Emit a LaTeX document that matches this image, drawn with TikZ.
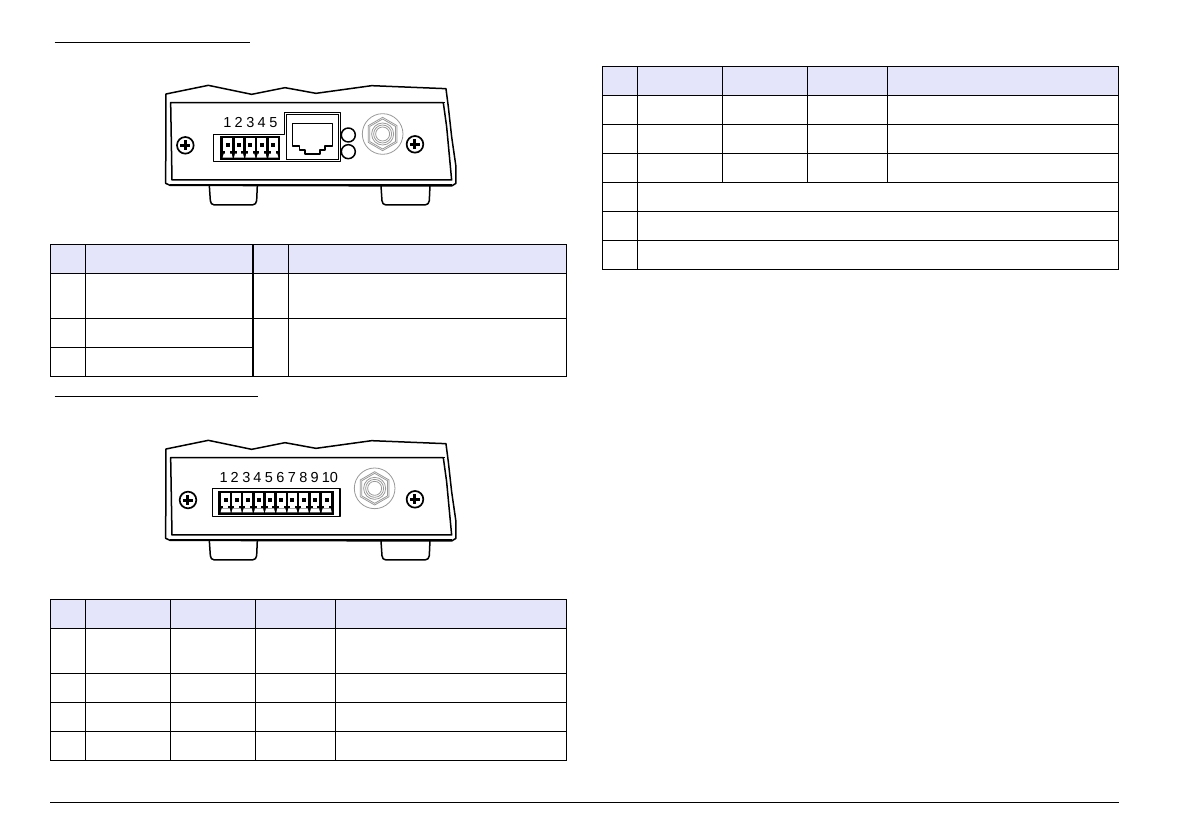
\documentclass[tikz,border=0pt]{standalone}
\usepackage{fontspec}
\setmainfont{Liberation Sans}
\usepackage{xcolor}
\definecolor{headfill}{HTML}{E4E4FA}
\colorlet{jackcol}{black!40}
\tikzstyle{rule}=[line width=1pt,black]
\tikzstyle{grid}=[line width=1pt,black]
\tikzstyle{head}=[fill=headfill,draw=none]
\tikzstyle{case}=[line width=1.5pt,black,line join=round]
\tikzstyle{jack}=[line width=0.8pt,jackcol]
\tikzstyle{pinno}=[font=\fontsize{14.5}{14.5}\selectfont,inner sep=0pt]
% device housing, seen from the front (zoomed units)
\def\housing{
  \draw[case] (48,72) -- (175,46) -- (305,73) -- (405,53) -- (498,70) -- (665,47) -- (888,56)
    -- (895,110) -- (905,200) -- (918,290) -- (918,340) -- (905,348) -- (60,346) -- (47,340) -- cycle;
  \draw[case] (62,98) -- (880,98) -- (890,170) -- (905,330) -- (66,330) -- cycle;
  \draw[case] (880,98) -- (886,98);
  \draw[line width=2pt] (60,345) -- (905,345);
  \foreach \xa/\xb in {178/322,693/840}
    \draw[case] (\xa,347) -- (\xa+3,392) to[out=-90,in=180] (\xa+15,405) -- (\xb-15,405)
      to[out=0,in=-90] (\xb-2,392) -- (\xb,347);
}
\def\screw#1#2{
  \draw[line width=1.7pt] (#1,#2) circle (25);
  \draw[line width=3pt] (#1-15,#2) -- (#1+15,#2) (#1,#2-15) -- (#1,#2+15);
}
% one terminal of the plug
\def\terminal#1#2{
  \fill[white] (#1-13,#2) rectangle (#1+13,#2+38);
  \fill[black] (#1-6,#2+15) rectangle (#1+6,#2+27);
  \fill[white] (#1-7,#2+38) rectangle (#1+7,#2+46);
  \fill[white] (#1-12,#2+46) -- (#1+12,#2+46) -- (#1+15,#2+58) -- (#1-15,#2+58) -- cycle;
}
\def\jacknut#1#2{
  \begin{scope}[shift={(#1,#2)}]
    \draw[jack] (0,0) circle (61);
    \draw[jack] (90:50) -- (150:50) -- (210:50) -- (270:50) -- (330:50) -- (30:50) -- cycle;
    \draw[jack] (90:45) -- (150:45) -- (210:45) -- (270:45) -- (330:45) -- (30:45) -- cycle;
    \foreach \r in {33,27,21}
      \draw[jack] (0,0) circle (\r);
  \end{scope}
}

\begin{document}
\begin{tikzpicture}[x=1pt,y=-1pt]
  \useasboundingbox (0,0) rectangle (1191,839);

  % RULES
  \draw[rule] (54.5,42.3) -- (249.5,42.3);
  \draw[rule] (54.5,396.3) -- (258,396.3);
  \draw[rule] (50,802.3) -- (1119,802.3);

  % DEVICE WITH 5 PINS
  \begin{scope}[shift={(150,70)},x=0.3333pt,y=-0.3333pt]
    \housing
    \screw{106}{226}
    \screw{795}{223}
    \draw[case] (190,193) -- (403,193) -- (403,127) -- (572,127) -- (572,275) -- (190,275) -- cycle;
    \fill[black] (210,198) rectangle (390,270);
    \foreach \i/\px/\tx in {1/233/232,2/267/266,3/301/301,4/335/335,5/370/370}{
      \terminal{\px}{205}
      \node[pinno] (pinA\i) at (\tx,158) {\i};
    }
    % network socket
    \draw[line width=0.8pt] (410,134) rectangle (566,269);
    \draw[case] (428,160) -- (547,160) -- (547,228) -- (525,228) -- (525,240) -- (510,240) -- (510,252)
      -- (465,252) -- (465,240) -- (448,240) -- (448,228) -- (428,228) -- cycle;
    \draw[case] (595,195) circle (21);
    \draw[case] (595,245) circle (21);
    \jacknut{698}{192}
  \end{scope}

  % DEVICE WITH 10 PINS
  \begin{scope}[shift={(150,425)},x=0.3333pt,y=-0.3333pt]
    \housing
    \screw{114}{225}
    \screw{795}{223}
    \draw[case] (188,190) rectangle (570,275);
    \fill[black] (203,197) rectangle (552,270);
    \foreach \i/\px/\tx in {1/227/221,2/260/254,3/293/289,4/327/322,5/360/357,6/394/391,7/427/426,8/461/460,9/495/494,10/530/540}{
      \terminal{\px}{204}
      \node[pinno] (pinB\i) at (\tx,158) {\i};
    }
    \jacknut{674}{190}
  \end{scope}

  % TABLE WITH 4 COLUMNS
  \fill[head] (50,244.5) rectangle (566.5,273.5);
  \draw[grid] (50,244.5) rectangle (566.5,376.5);
  \foreach \y in {273.5,318.5}
    \draw[grid] (50,\y) -- (566.5,\y);
  \draw[grid] (50,347.5) -- (253,347.5);
  \foreach \x in {85.5,288.5}
    \draw[grid] (\x,244.5) -- (\x,376.5);
  \draw[line width=1.6pt] (253,244.5) -- (253,376.5);

  % TABLE WITH 5 COLUMNS
  \fill[head] (50,599.5) rectangle (566.5,628.5);
  \draw[grid] (50,599.5) rectangle (566.5,760.5);
  \foreach \y in {628.5,673.5,702.5,731.5}
    \draw[grid] (50,\y) -- (566.5,\y);
  \foreach \x in {85.5,170.5,255.5,335.5}
    \draw[grid] (\x,599.5) -- (\x,760.5);

  % TABLE ON THE RIGHT
  \fill[head] (602.3,66.3) rectangle (1118.7,95.3);
  \draw[grid] (602.3,66.3) rectangle (1118.7,269.3);
  \foreach \y in {95.3,124.3,153.3,182.3,211.3,240.3}
    \draw[grid] (602.3,\y) -- (1118.7,\y);
  \draw[grid] (637.3,66.3) -- (637.3,269.3);
  \foreach \x in {722.3,807.3,887.3}
    \draw[grid] (\x,66.3) -- (\x,182.3);
\end{tikzpicture}
\end{document}
